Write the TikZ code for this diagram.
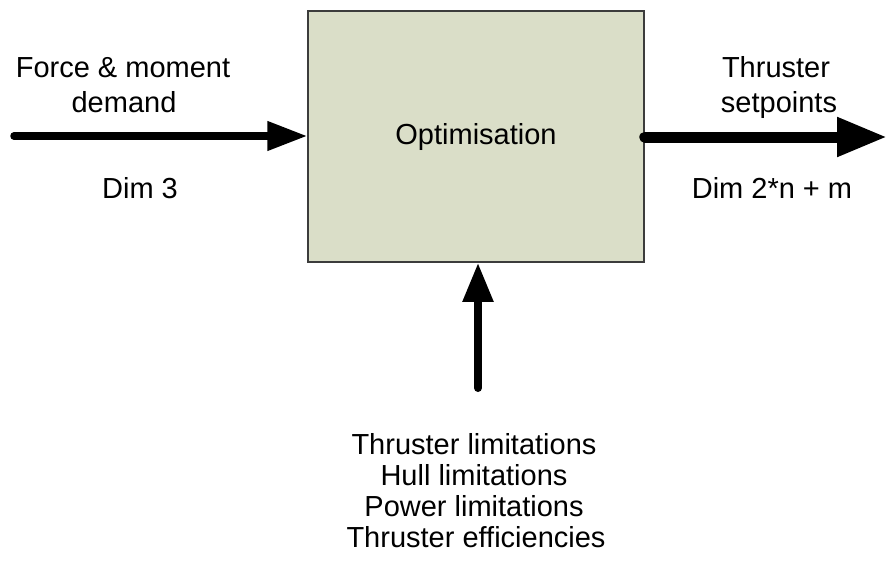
\documentclass[tikz,border=0pt]{standalone}
\usepackage{fontspec}
\setmainfont{Liberation Sans}
\usepackage{tikz}
\usetikzlibrary{arrows.meta}
\definecolor{blockfill}{RGB}{218,222,200}
\definecolor{blockline}{RGB}{60,60,60}
\tikzset{
  blockbox/.style={draw=blockline,line width=1.5pt,fill=blockfill,minimum width=336pt,minimum height=251pt,inner sep=0pt,font=\fontsize{29}{35}\selectfont},
  lbl/.style={anchor=base,inner sep=0pt,font=\fontsize{29}{35}\selectfont},
  flow/.style={line cap=round,draw=black}
}

\begin{document}
\begin{tikzpicture}[x=1pt,y=-1pt]
  \useasboundingbox (0,0) rectangle (888,562);
  % the block
  \node[blockbox] (optim) at (476,136.5) {Optimisation};
  % inputs and outputs
  \coordinate (demandin) at (14,136);
  \coordinate (setout) at (887,137);
  \coordinate (limitsin) at (478,388);
  \draw[flow,line width=7.5pt,-{Triangle[length=40pt,width=28pt]}]
  (demandin) -- (demandin -| optim.west);
  \draw[flow,line width=11pt,-{Triangle[length=50pt,width=37pt]}]
  (optim.east |- setout) -- (setout);
  \draw[flow,line width=8pt,-{Triangle[length=39pt,width=29pt]}]
  (limitsin) -- (limitsin |- optim.south);
  % labels
  \node[lbl] (force) at (123,77) {Force \& moment};
  \node[lbl] (demand) at (124,112) {demand};
  \node[lbl] (dimin) at (140,198) {Dim 3};
  \node[lbl] (thruster) at (776,77) {Thruster};
  \node[lbl] (setpoints) at (779,112) {setpoints};
  \node[lbl] (dimout) at (772,198) {Dim 2*n + m};
  \node[lbl] (thrlim) at (474,454) {Thruster limitations};
  \node[lbl] (hulllim) at (474,485) {Hull limitations};
  \node[lbl] (powlim) at (474,516) {Power limitations};
  \node[lbl] (threff) at (476,547) {Thruster efficiencies};
\end{tikzpicture}
\end{document}
